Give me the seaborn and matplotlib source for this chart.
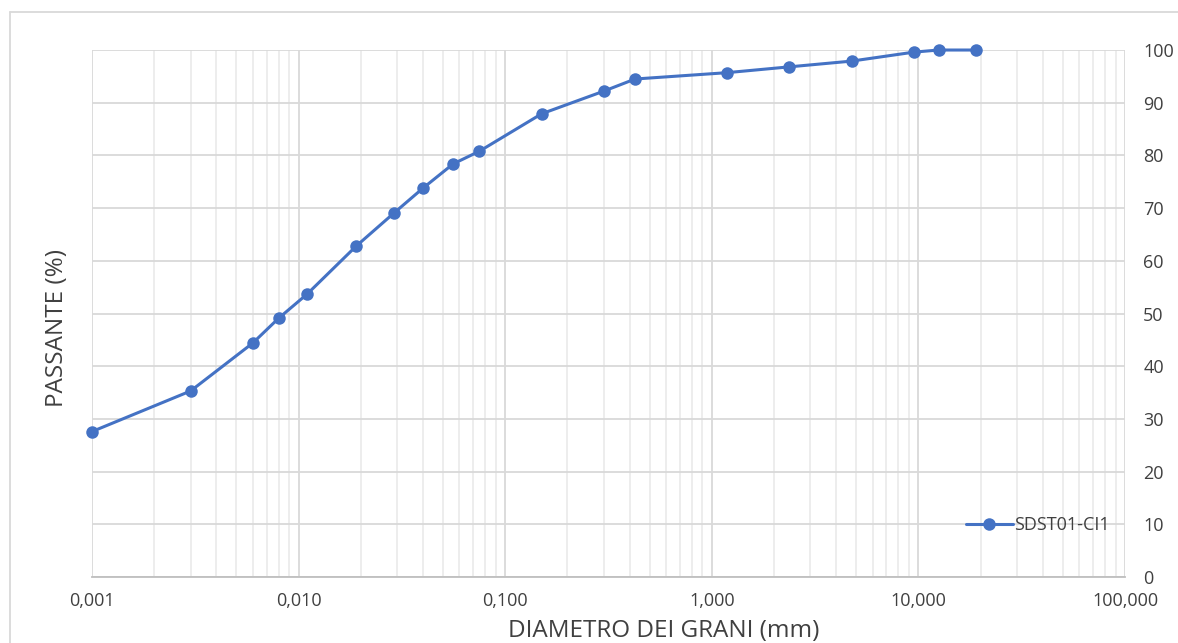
"""
Grain size distribution curve (curva granulometrica) for sample SDST01-CI1.
"""

import numpy as np
import pandas as pd
import seaborn as sns
import matplotlib.pyplot as plt
from matplotlib.lines import Line2D
from matplotlib.ticker import FixedLocator, FuncFormatter, LogLocator, NullFormatter

# Grain diameter (mm) and percent passing
diametro = [0.001, 0.003, 0.006, 0.008, 0.011, 0.019, 0.029, 0.040, 0.056, 0.075,
            0.150, 0.300, 0.425, 1.18, 2.36, 4.75, 9.5, 12.5, 19.0]
passante = [27.6, 35.3, 44.4, 49.1, 53.7, 62.8, 69.1, 73.8, 78.4, 80.8,
            87.9, 92.2, 94.5, 95.7, 96.8, 97.9, 99.6, 100.0, 100.0]
serie = "SDST01-CI1"

x_ticks = [0.001, 0.01, 0.1, 1, 10, 100]
y_ticks = list(range(0, 101, 10))

df = pd.DataFrame({"Diametro": diametro, "Passante": passante, "Campione": serie})

sns.set_style("white")
plt.rcParams["font.family"] = ["Open Sans", "DejaVu Sans"]

blue = "#4472C4"
text_col = "#404040"

fig = plt.figure(figsize=(11.78, 6.43), dpi=100)
ax = fig.add_axes([0.0781, 0.1026, 0.8770, 0.8196])

sns.lineplot(data=df, x="Diametro", y="Passante", hue="Campione", palette=[blue],
             marker="o", markersize=9, markeredgewidth=0, linewidth=2.2,
             ax=ax, legend=False, zorder=5, clip_on=False)

ax.set_xscale("log")
ax.set_xlim(0.001, 100)
ax.set_ylim(0, 100)

# Excel-like number format with comma as decimal separator
ax.xaxis.set_major_locator(FixedLocator(x_ticks))
ax.xaxis.set_major_formatter(FuncFormatter(lambda v, p: f"{v:.3f}".replace(".", ",")))
ax.xaxis.set_minor_locator(LogLocator(base=10, subs=np.arange(2, 10)))
ax.xaxis.set_minor_formatter(NullFormatter())
ax.yaxis.set_major_locator(FixedLocator(y_ticks))
ax.yaxis.tick_right()

ax.grid(which="major", axis="both", color="#d9d9d9", linewidth=1.3)
ax.grid(which="minor", axis="x", color="#ececec", linewidth=1.3)
ax.set_axisbelow(True)

for side in ["top", "left", "right"]:
    ax.spines[side].set_visible(False)
ax.spines["bottom"].set_color("#bfbfbf")
ax.spines["bottom"].set_linewidth(1.3)

ax.tick_params(axis="both", which="both", length=0, labelsize=13, colors=text_col)
ax.tick_params(axis="x", pad=11)
ax.tick_params(axis="y", pad=13)

ax.set_xlabel("DIAMETRO DEI GRANI (mm)", fontsize=17.5, color=text_col)
ax.set_ylabel("PASSANTE (%)", fontsize=17.5, color=text_col)
# Excel placed the axis titles slightly off-centre
ax.xaxis.set_label_coords(0.553, -0.080)
ax.yaxis.set_label_coords(-0.022, 0.472)

handle = Line2D([], [], color=blue, marker="o", markersize=9, markeredgewidth=0, linewidth=2.2)
ax.legend([handle], [serie], loc="center left", bbox_to_anchor=(0.83, 0.098),
          frameon=False, fontsize=13, handlelength=2.6, handletextpad=0.05,
          labelcolor=text_col)

# Chart area border (top and left edges visible in the reference)
fig.add_artist(Line2D([10 / 1178, 1.0], [1 - 12 / 643, 1 - 12 / 643],
                      transform=fig.transFigure, color="#d9d9d9", linewidth=1.3))
fig.add_artist(Line2D([10 / 1178, 10 / 1178], [0.0, 1 - 12 / 643],
                      transform=fig.transFigure, color="#d9d9d9", linewidth=1.3))

plt.savefig("out.png", dpi=100)
